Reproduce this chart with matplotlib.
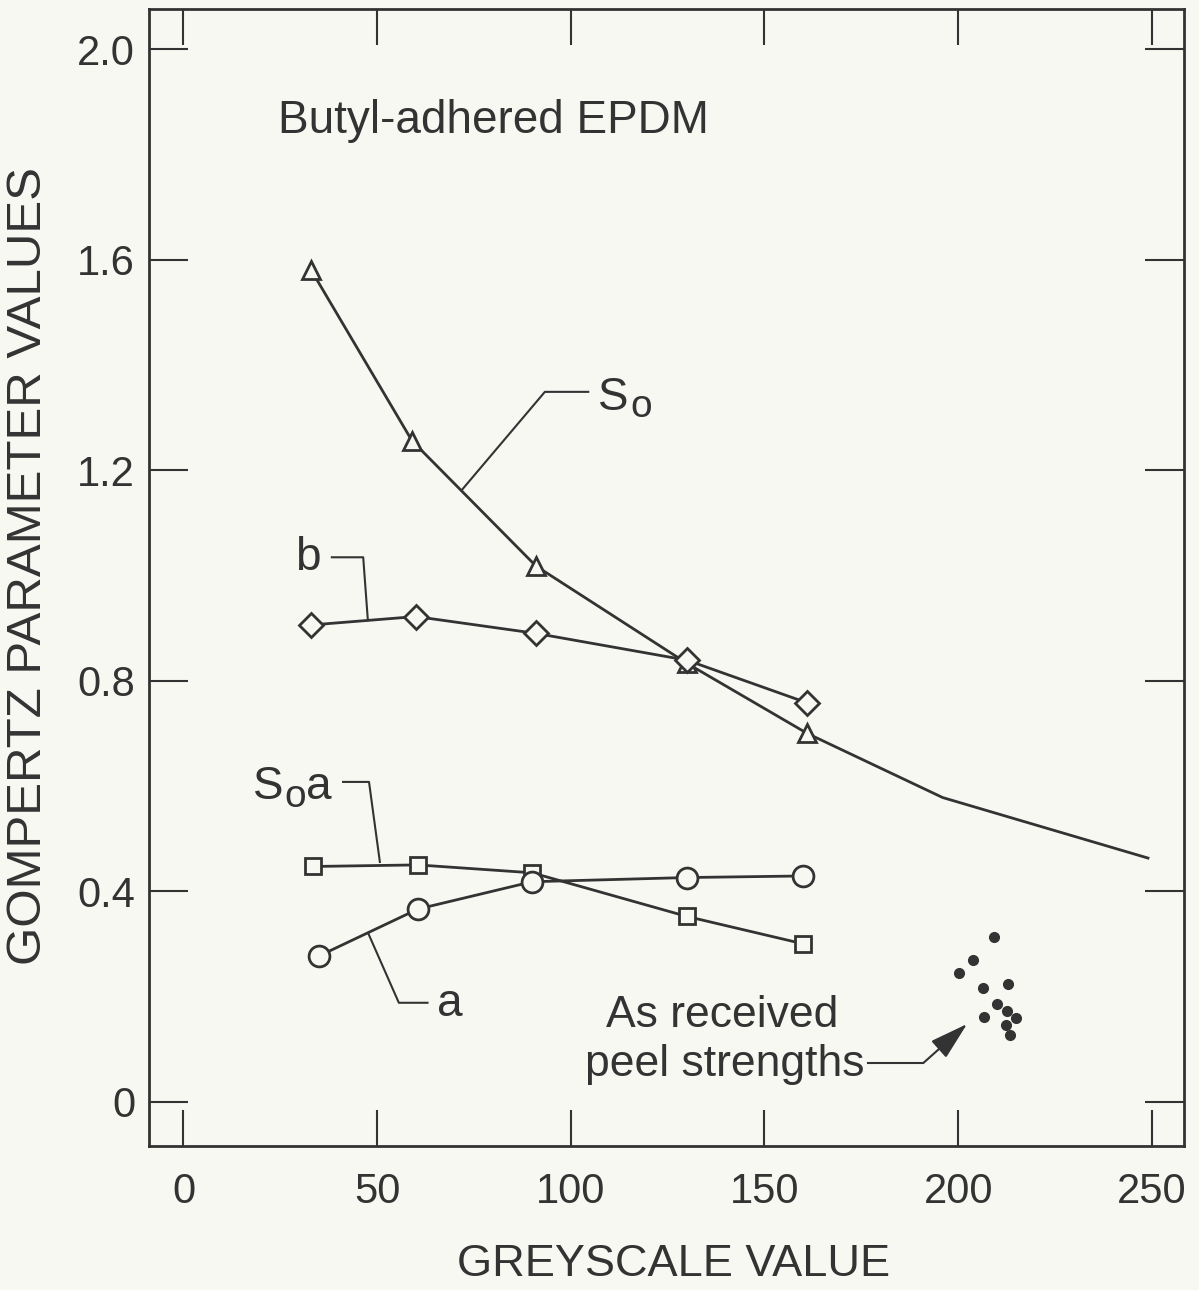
import matplotlib
matplotlib.use("Agg")
import matplotlib.pyplot as plt

# data
so_x = [33, 59, 91, 130, 161, 196, 249]
so_y = [1.58, 1.256, 1.018, 0.833, 0.700, 0.578, 0.463]
b_x = [33, 60, 91, 130, 161]
b_y = [0.906, 0.922, 0.890, 0.839, 0.758]
soa_x = [33.5, 60.5, 90, 130, 160]
soa_y = [0.447, 0.450, 0.435, 0.352, 0.300]
a_x = [35, 60.5, 90, 130, 160]
a_y = [0.277, 0.366, 0.418, 0.426, 0.429]
peel_x = [209.2, 203.8, 200.2, 206.4, 212.8, 210.0, 212.6, 214.9, 206.6, 212.3, 213.3]
peel_y = [0.313, 0.269, 0.245, 0.216, 0.224, 0.186, 0.172, 0.159, 0.161, 0.146, 0.127]

x_ticks = [0, 50, 100, 150, 200, 250]
y_ticks = [0, 0.4, 0.8, 1.2, 1.6, 2.0]
y_ticklabels = ["0", "0.4", "0.8", "1.2", "1.6", "2.0"]

plt.rcParams['font.family'] = ['Liberation Sans', 'DejaVu Sans']
ink = '#333333'
bg = '#f8f8f3'

fig = plt.figure(figsize=(11.99, 12.90), dpi=100, facecolor=bg)
ax = fig.add_axes([0.12427, 0.11163, 0.86322, 0.88140], facecolor=bg)

mk = dict(color=ink, lw=2, mfc=bg, mec=ink, mew=2)
ax.plot(so_x, so_y, marker='^', ms=13.5, markevery=list(range(5)), zorder=3, **mk)
ax.plot(b_x, b_y, marker='D', ms=12.5, zorder=3, **mk)
ax.plot(soa_x, soa_y, marker='s', ms=12, zorder=3, **mk)
ax.plot(a_x, a_y, marker='o', ms=15, zorder=4, **mk)
ax.plot(peel_x, peel_y, 'o', ms=7, color=ink, ls='none')

# callout leaders
lead = dict(color=ink, lw=1.5, zorder=2)
ax.plot([71.8, 93.3, 104.5], [1.162, 1.349, 1.349], **lead)
ax.plot([47.6, 46.4, 38.3], [0.915, 1.0346, 1.0346], **lead)
ax.plot([50.7, 47.9, 41.2], [0.4556, 0.6077, 0.6077], **lead)
ax.plot([47.7, 55.6, 63.0], [0.320, 0.188, 0.188], **lead)
ax.plot([176.7, 191.0], [0.0735, 0.0735], **lead)
ax.annotate('', xy=(202.3, 0.1477), xytext=(191.0, 0.0735),
            arrowprops=dict(arrowstyle='-|>,head_length=1.2,head_width=0.35',
                            color=ink, lw=1.5, mutation_scale=20,
                            shrinkA=0, shrinkB=0))

fs = 33
ax.text(107.0, 1.314, "S", fontsize=fs, color=ink, va='baseline')
ax.text(115.3, 1.301, "o", fontsize=28, color=ink, va='baseline')
ax.text(28.8, 1.0108, "b", fontsize=fs, color=ink, va='baseline')
ax.text(18.0, 0.5753, "S", fontsize=fs, color=ink, va='baseline')
ax.text(26.0, 0.560, "o", fontsize=28, color=ink, va='baseline')
ax.text(31.7, 0.5753, "a", fontsize=fs, color=ink, va='baseline')
ax.text(65.4, 0.163, "a", fontsize=fs, color=ink, va='baseline')
ax.text(139.0, 0.142, "As received", fontsize=32, color=ink, va='baseline', ha='center')
ax.text(139.7, 0.0487, "peel strengths", fontsize=32, color=ink, va='baseline', ha='center')
ax.text(24.4, 1.8407, "Butyl-adhered EPDM", fontsize=fs, color=ink, va='baseline')

ax.set_xlim(-8.9, 258.3)
ax.set_ylim(-0.0842, 2.0766)
ax.set_xticks(x_ticks)
ax.set_yticks(y_ticks)
ax.set_yticklabels(y_ticklabels)
ax.tick_params(axis='x', direction='in', length=26, width=1.5, top=True,
               pad=18.5, labelsize=30, colors=ink)
ax.tick_params(axis='y', direction='in', length=28, width=1.5, right=True,
               pad=10, labelsize=30, colors=ink)
for s in ax.spines.values():
    s.set_linewidth(2)
    s.set_color(ink)

ax.set_xlabel("GREYSCALE VALUE", fontsize=32.5, color=ink)
ax.xaxis.set_label_coords(0.5072, -0.0865)
ax.set_ylabel("GOMPERTZ PARAMETER VALUES", fontsize=35.5, color=ink, va='center')
ax.yaxis.set_label_coords(-0.116, 0.5097)

fig.savefig("out.png", dpi=100, facecolor=bg)
